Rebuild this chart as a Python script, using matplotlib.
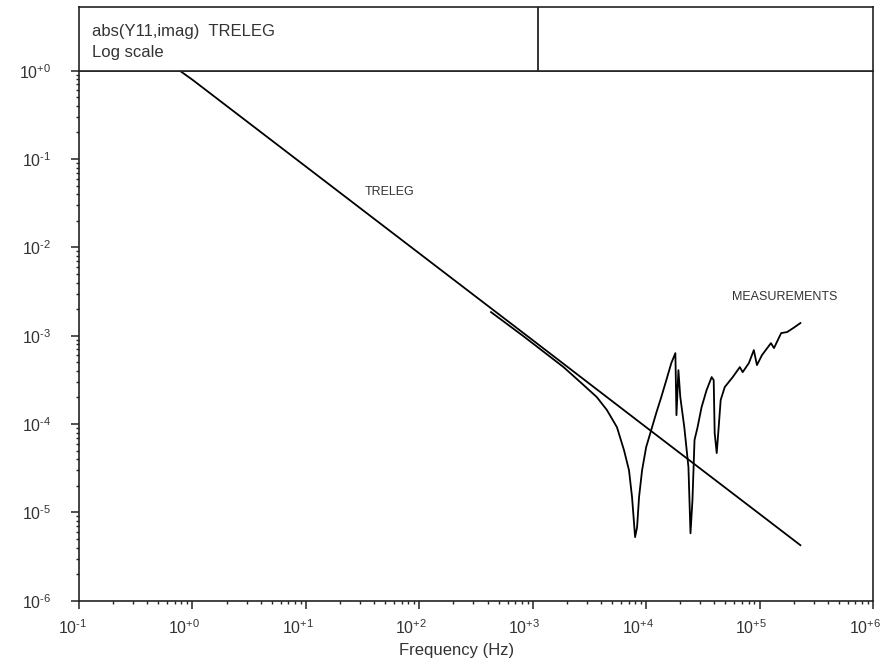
import numpy as np
import matplotlib
matplotlib.use("Agg")
import matplotlib.pyplot as plt
import matplotlib.transforms as mtransforms
from matplotlib.ticker import FixedLocator, FuncFormatter, NullFormatter

plt.rcParams['font.family'] = ['Liberation Sans', 'DejaVu Sans']
plt.rcParams['mathtext.fontset'] = 'custom'
plt.rcParams['mathtext.rm'] = 'Liberation Sans'
plt.rcParams['mathtext.default'] = 'regular'

# courbe TRELEG (droite en log-log)
treleg_freq = [0.773, 1.0, 10.0, 100.0, 1000.0, 1.0e4, 1.0e5, 2.29e5]
treleg_val = [1.0, 0.79, 0.0822, 8.55e-3, 8.9e-4, 9.2e-5, 9.6e-6, 4.25e-6]

# courbe mesurée
meas_freq = [429, 826, 1870, 2810, 3670, 4510, 5530, 6380, 7060, 7510, 7820, 7990,
             8320, 8660, 9210, 1.0e4, 1.107e4, 1.227e4, 1.36e4, 1.506e4, 1.667e4, 1.81e4,
             1.85e4, 1.925e4, 2.0e4, 2.17e4, 2.36e4, 2.46e4, 2.56e4, 2.67e4, 2.84e4, 3.08e4,
             3.41e4, 3.78e4, 3.94e4, 4.02e4, 4.19e4, 4.36e4, 4.54e4, 4.93e4, 5.8e4, 6.7e4,
             7.1e4, 8.05e4, 8.9e4, 9.48e4, 1.05e5, 1.26e5, 1.34e5, 1.55e5, 1.75e5, 1.98e5, 2.29e5]
meas_val = [1.85e-3, 9.9e-4, 4.41e-4, 2.76e-4, 2.02e-4, 1.44e-4, 9.2e-5, 5.06e-5, 3.0e-5, 1.49e-5, 7.55e-6, 5.24e-6,
            6.8e-6, 1.49e-5, 3.0e-5, 5.47e-5, 8.5e-5, 1.33e-4, 2.02e-4, 3.14e-4, 4.9e-4, 6.35e-4,
            1.26e-4, 4.07e-4, 2.02e-4, 9.2e-5, 3.25e-5, 5.8e-6, 1.37e-5, 6.6e-5, 9.2e-5, 1.55e-4,
            2.42e-4, 3.4e-4, 3.14e-4, 7.9e-5, 4.69e-5, 9.2e-5, 1.87e-4, 2.62e-4, 3.4e-4, 4.41e-4,
            3.87e-4, 4.9e-4, 6.87e-4, 4.65e-4, 6.03e-4, 8.24e-4, 7.24e-4, 1.07e-3, 1.10e-3, 1.22e-3, 1.39e-3]

x_decades = [-1, 0, 1, 2, 3, 4, 5, 6]
y_decades = [-6, -5, -4, -3, -2, -1, 0]

header_title = "abs(Y11,imag)  TRELEG"
header_sub = "Log scale"
xlabel = "Frequency (Hz)"

W, H = 887, 659
fig = plt.figure(figsize=(W / 100, H / 100), dpi=100)

left, right = 79 / W, 873 / W
bottom, top = 1 - 600.7 / H, 1 - 70.7 / H
head_top = 1 - 6.7 / H

ax = fig.add_axes([left, bottom, right - left, top - bottom])
ax.set_xscale('log')
ax.set_yscale('log')
ax.set_xlim(0.1, 1e6)
ax.set_ylim(1e-6, 1)

ax.plot(treleg_freq, treleg_val, color='black', lw=1.3)
ax.plot(meas_freq, meas_val, color='black', lw=1.3)

narrow = ['Liberation Sans Narrow', 'Liberation Sans', 'DejaVu Sans']
ax.text(33.3, 0.0423, "TRELEG", fontsize=9, va='center', ha='left',
        family=narrow, color='#333333')
ax.text(5.69e4, 2.74e-3, "MEASUREMENTS", fontsize=9, va='center', ha='left',
        family=narrow, color='#333333')


def fmt_pow(v, pos):
    e = int(round(np.log10(v)))
    sign = '+' if e >= 0 else r'\text{-}'
    return r'$10^{%s%d}$' % (sign, abs(e))


def minor_ticks(decades):
    return [m * 10.0 ** d for d in decades[:-1] for m in range(2, 10)]


ax.xaxis.set_major_locator(FixedLocator([10.0 ** d for d in x_decades]))
ax.yaxis.set_major_locator(FixedLocator([10.0 ** d for d in y_decades]))
ax.xaxis.set_minor_locator(FixedLocator(minor_ticks(x_decades)))
ax.yaxis.set_minor_locator(FixedLocator(minor_ticks(y_decades)))
for axis in (ax.xaxis, ax.yaxis):
    axis.set_major_formatter(FuncFormatter(fmt_pow))
    axis.set_minor_formatter(NullFormatter())

ax.tick_params(which='major', direction='out', length=6, width=1.1, labelsize=11.5,
               colors='#222222', labelcolor='#333333')
ax.tick_params(which='minor', direction='out', length=2.5, width=1.0, colors='#222222')
ax.tick_params(axis='y', which='major', pad=14)
ax.tick_params(axis='x', which='major', pad=7)
ax.tick_params(top=False, right=False, which='both')

# étiquettes x : alignées à droite, décalées de quelques pixels
shift = mtransforms.ScaledTranslation(8 / 100, 0, fig.dpi_scale_trans)
for lbl in ax.get_xticklabels():
    lbl.set_horizontalalignment('right')
    lbl.set_transform(lbl.get_transform() + shift)

for s in ax.spines.values():
    s.set_linewidth(1.2)
    s.set_color('#222222')

fig.text(457 / W, 1 - 650 / H, xlabel, fontsize=12, color='#333333', ha='center', va='center')

# boîte d'en-tête
hax = fig.add_axes([left, top, right - left, head_top - top])
hax.set_xlim(0, 1)
hax.set_ylim(0, 1)
hax.set_xticks([])
hax.set_yticks([])
for s in hax.spines.values():
    s.set_linewidth(1.2)
    s.set_color('#222222')
split = (538 - 79) / (873 - 79)
hax.axvline(split, color='#111111', lw=1.2)
hax.text(13 / 794, 0.62, header_title, fontsize=12, va='center', ha='left', color='#333333')
hax.text(13 / 794, 0.28, header_sub, fontsize=12, va='center', ha='left', color='#333333')

fig.savefig("out.png", dpi=100)
